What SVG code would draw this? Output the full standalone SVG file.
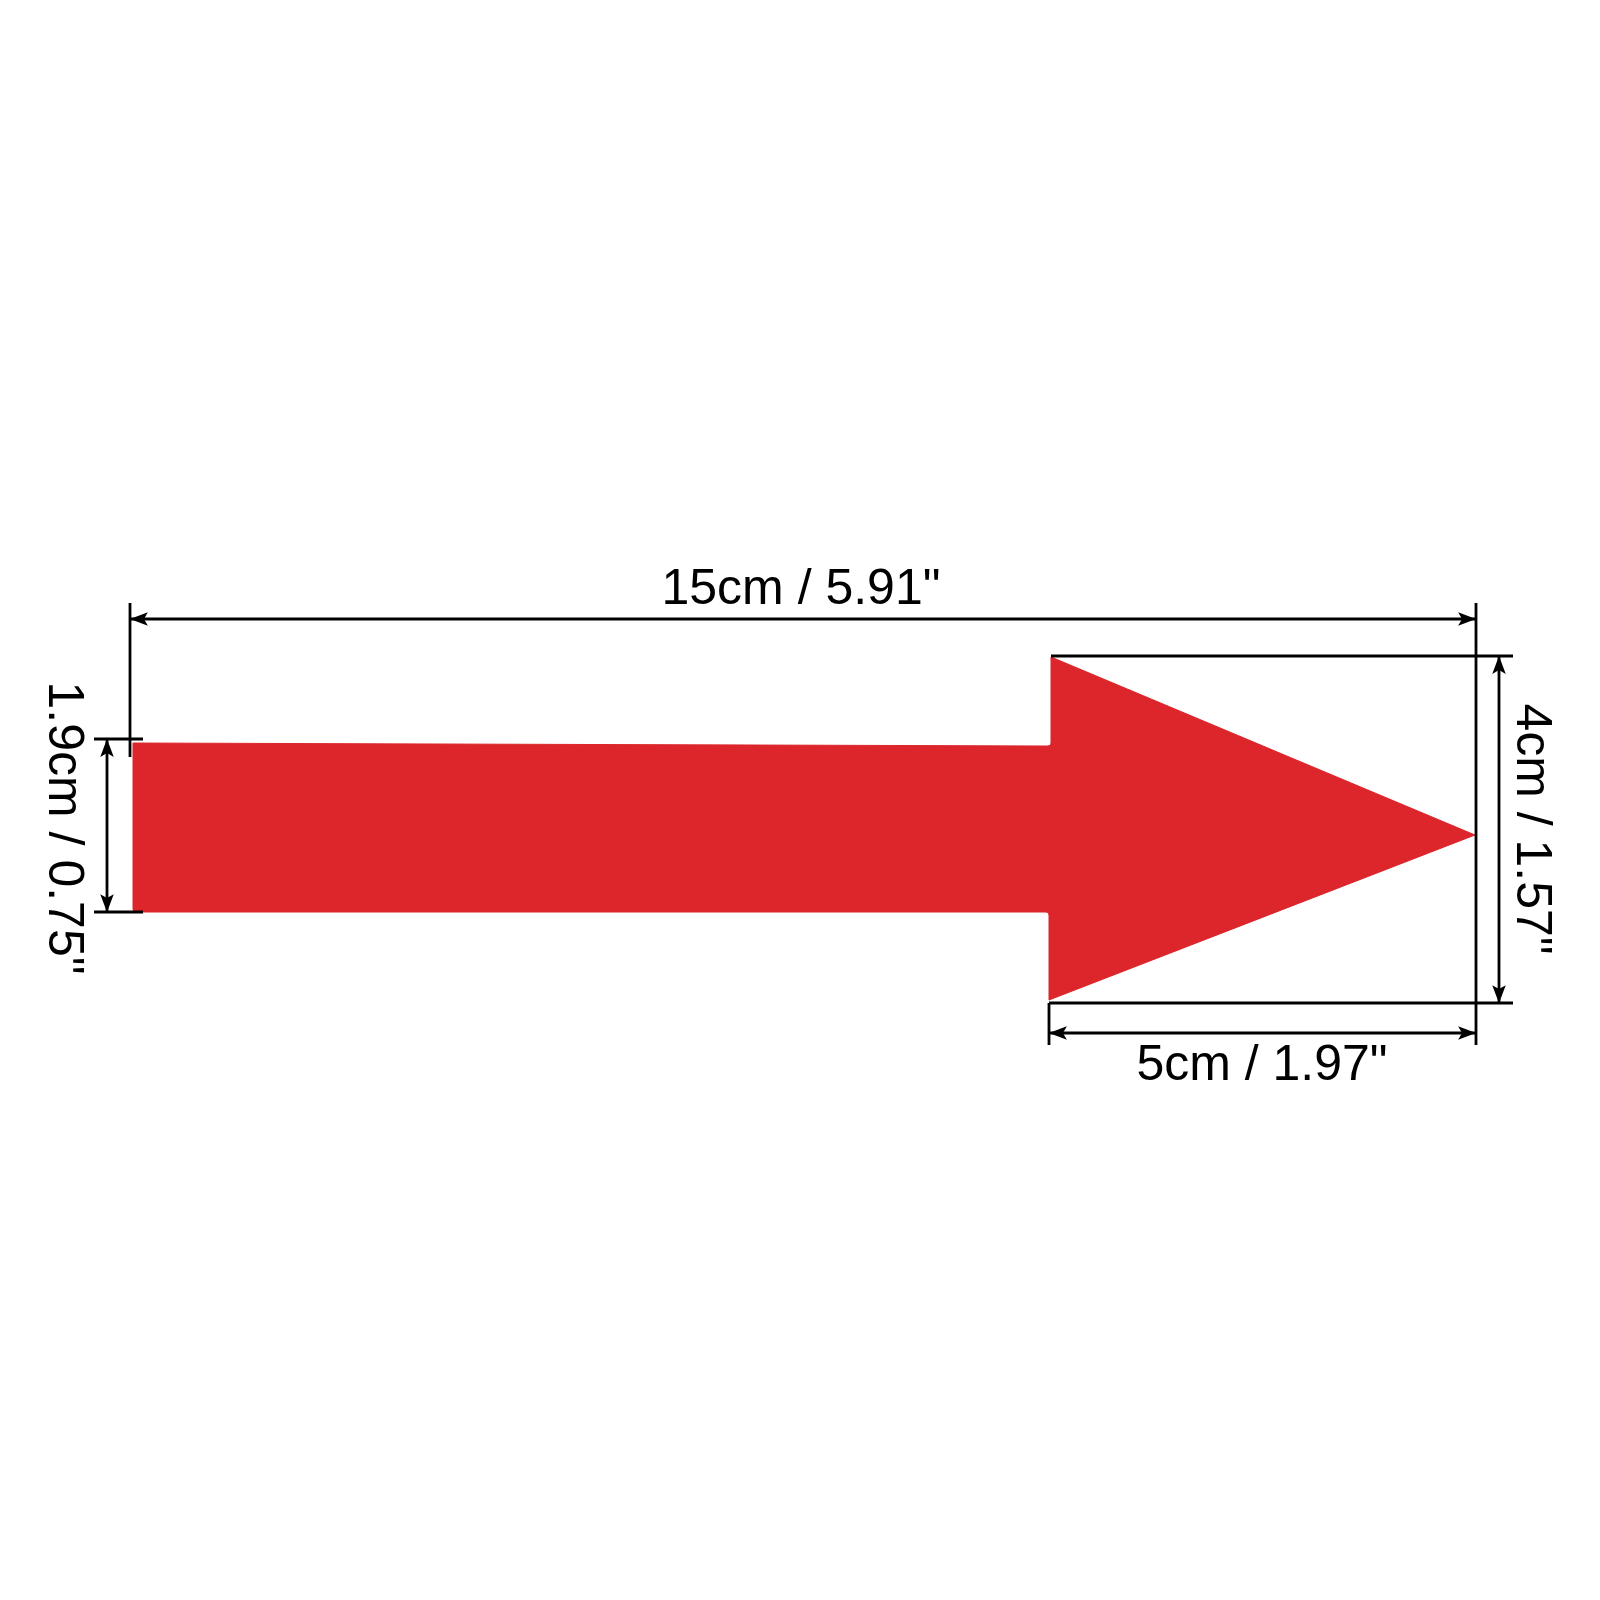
<svg xmlns="http://www.w3.org/2000/svg" width="1600" height="1600" viewBox="0 0 1600 1600">
<defs>
<marker id="ah" viewBox="0 0 16 12" refX="15" refY="6" markerWidth="18" markerHeight="13.5" markerUnits="userSpaceOnUse" orient="auto-start-reverse">
<path d="M16,6 L0,0 L3.5,6 L0,12 Z" fill="#000"/>
</marker>
</defs>
<style>
.dim{stroke:#000;stroke-width:2.8;fill:none}
.arr{stroke:#000;stroke-width:2.8;fill:none;marker-start:url(#ah);marker-end:url(#ah)}
.lbl{font-family:"Liberation Sans",Arial,sans-serif;font-size:50px;fill:#000;text-anchor:middle}
</style>
<rect width="1600" height="1600" fill="#fff"/>
<g id="arrow-shape">
<path d="M133,743 L1048,746 Q1051,746 1051,743 L1051,657 L1475,835 L1049,1000 L1049,915 Q1049,912 1046,912 L136,912 Q133,912 133,909 Z" fill="#DC262B" stroke="#DC262B" stroke-width="1" stroke-linejoin="round"/>
</g>
<g id="connectors">
<line class="dim" x1="130" y1="603" x2="130" y2="757"/>
<line class="dim" x1="1476" y1="603" x2="1476" y2="1045"/>
<line class="arr" x1="131" y1="619" x2="1475" y2="619"/>
<line class="dim" x1="94" y1="739" x2="143" y2="739"/>
<line class="dim" x1="94" y1="912" x2="143" y2="912"/>
<line class="arr" x1="107" y1="740" x2="107" y2="911"/>
<line class="dim" x1="1051" y1="656" x2="1513" y2="656"/>
<line class="dim" x1="1049" y1="1003" x2="1513" y2="1003"/>
<line class="arr" x1="1499" y1="657" x2="1499" y2="1002"/>
<line class="dim" x1="1049" y1="1003" x2="1049" y2="1045"/>
<line class="arr" x1="1050" y1="1033" x2="1475" y2="1033"/>
</g>
<g id="labels">
<text class="lbl" x="801" y="604">15cm / 5.91"</text>
<text class="lbl" x="1262" y="1080">5cm / 1.97"</text>
<text class="lbl" transform="translate(49,828) rotate(90)">1.9cm / 0.75"</text>
<text class="lbl" transform="translate(1517,829) rotate(90)">4cm / 1.57"</text>
</g>
</svg>
